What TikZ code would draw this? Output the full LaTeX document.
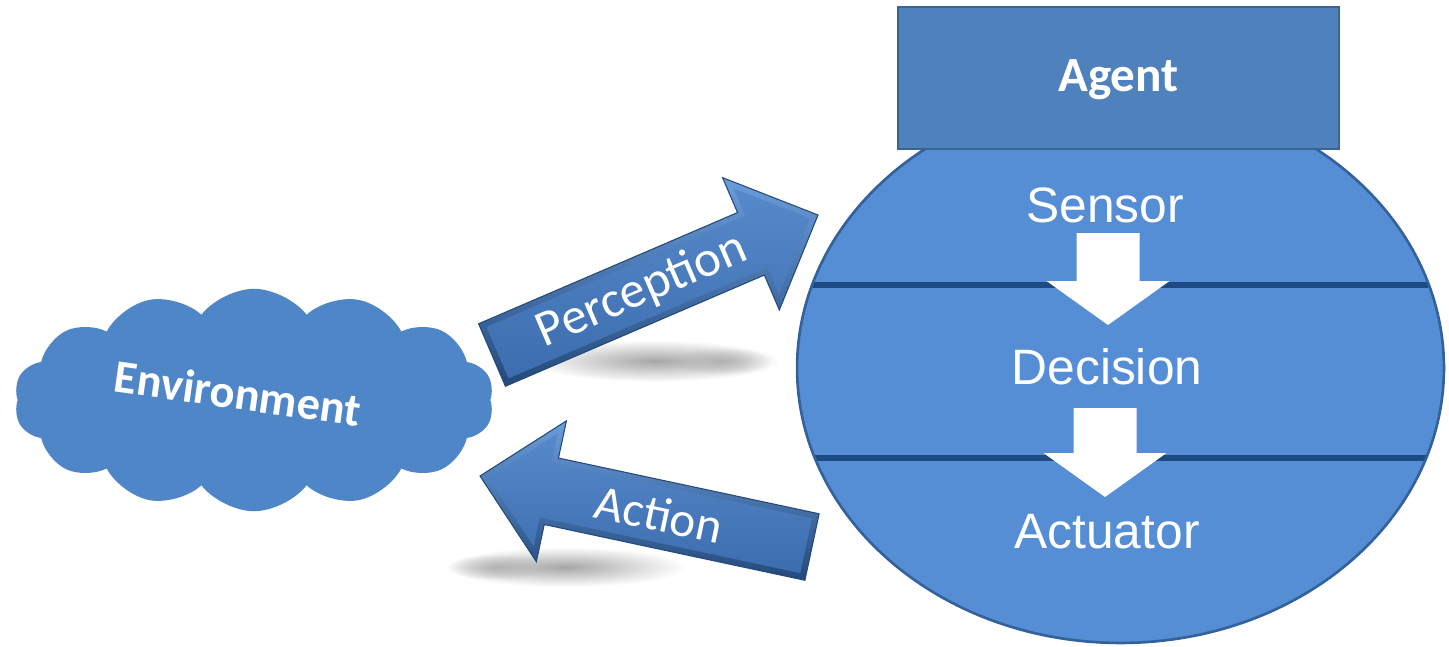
\documentclass[tikz,border=0pt]{standalone}
\usepackage{fontspec}
\setmainfont{Liberation Sans}
\newfontfamily\calibrifont{Carlito}
\usetikzlibrary{shapes.geometric,shapes.symbols,fadings,calc}

\definecolor{cloudblue}{HTML}{4F86C7}
\definecolor{boxblue}{HTML}{4F81BD}
\definecolor{boxedge}{HTML}{3A6496}
\definecolor{bodyblue}{HTML}{558ED5}
\definecolor{bodyedge}{HTML}{33619B}
\definecolor{divider}{HTML}{1C4A85}
\definecolor{arrowlight}{HTML}{6C9DDB}
\definecolor{arrowdark}{HTML}{23497A}
\definecolor{arrowface}{HTML}{5689CB}
\definecolor{arrowfacedark}{HTML}{3C6DAE}

\tikzfading[name=softspot, inner color=transparent!0, outer color=transparent!100]

% thick bevelled block arrow from tail coordinate #1 to tip coordinate #2
\newcommand\fatarrow[2]{%
  \coordinate (fa-b) at ($(#2)!1.46cm!(#1)$);
  \coordinate (fa-t) at ($(#1)!0.12cm!(#2)$);
  \coordinate (fa-p) at ($(#2)!0.17cm!(#1)$);
  \coordinate (fa-c) at ($(#2)!1.34cm!(#1)$);
  \shade[top color=arrowlight, bottom color=arrowdark, draw=arrowdark, line width=0.6pt, line join=miter]
    ($(#1)!0.68cm!90:(#2)$) -- ($(fa-b)!0.68cm!90:(#2)$) -- ($(fa-b)!1.44cm!90:(#2)$)
    -- (#2) -- ($(fa-b)!1.44cm!-90:(#2)$) -- ($(fa-b)!0.68cm!-90:(#2)$)
    -- ($(#1)!0.68cm!-90:(#2)$) -- cycle;
  \shade[top color=arrowface, bottom color=arrowfacedark]
    ($(fa-t)!0.56cm!90:(#2)$) -- ($(fa-c)!0.56cm!90:(#2)$) -- ($(fa-c)!1.15cm!90:(#2)$)
    -- (fa-p) -- ($(fa-c)!1.15cm!-90:(#2)$) -- ($(fa-c)!0.56cm!-90:(#2)$)
    -- ($(fa-t)!0.56cm!-90:(#2)$) -- cycle;
}

% white downward block arrow whose head base is centred on #1
\newcommand\whitedown[3]{%
  \fill[white] (#1) ++(-31.5,0) -- ++(0,-#2) -- ++(63,0) -- ++(0,#2) -- ++(30,0)
    -- ++(-61.5,#3) -- ++(-61.5,-#3) -- cycle;
}

\begin{document}
\begin{tikzpicture}[x=0.02cm, y=-0.02cm,
  boxtext/.style={text=white, font=\calibrifont\bfseries\fontsize{28}{32}\selectfont},
  stagetext/.style={text=white, font=\fontsize{28.3}{32}\selectfont},
  arrowtext/.style={text=white, font=\calibrifont\fontsize{29}{32}\selectfont},
  dividerline/.style={draw=divider, line width=3pt}]
\useasboundingbox (0,0) rectangle (1449,646);

% soft shadows under the block arrows
\fill[black!35, path fading=softspot] (655,361) ellipse [x radius=2.5cm, y radius=0.42cm];
\fill[black!30, path fading=softspot] (722,361) ellipse [x radius=1.0cm, y radius=0.28cm];
\fill[black!35, path fading=softspot] (565,567) ellipse [x radius=2.4cm, y radius=0.4cm];
\fill[black!30, path fading=softspot] (498,567) ellipse [x radius=1.0cm, y radius=0.26cm];

% environment cloud
\node[cloud, cloud puffs=14, cloud puff arc=105, cloud ignores aspect,
      fill=cloudblue, draw=none, minimum width=9.6cm, minimum height=4.45cm, inner sep=0pt]
  (env) at (254,400) {};
\node[boxtext, font=\calibrifont\bfseries\fontsize{26.5}{30}\selectfont, rotate=-8]
  (envlabel) at (238,393) {Environment};

% agent body and title box
\node[ellipse, fill=bodyblue, draw=none,
      minimum width=12.94cm, minimum height=11cm, inner sep=0pt]
  (body) at (1120.5,368) {};
\begin{scope}
  \clip (1120.5,368) ellipse [x radius=6.47cm, y radius=5.5cm];
  \draw[dividerline] (780,285) -- (1460,285);
  \draw[dividerline] (780,458) -- (1460,458);
\end{scope}
\draw[draw=bodyedge, line width=1.5pt] (body.center) ellipse [x radius=6.47cm, y radius=5.5cm];

\node[rectangle, fill=boxblue, draw=boxedge, line width=1.6pt,
      minimum width=8.82cm, minimum height=2.84cm, inner sep=0pt]
  (agent) at (1118.5,78) {};
\node[boxtext] (agentlabel) at (1118.5,80) {Agent};

% stages inside the agent
\node[stagetext] (sensor) at (1105,205) {Sensor};
\node[stagetext] (decision) at (1107,367) {Decision};
\node[stagetext] (actuator) at (1107,532) {Actuator};

\coordinate (sd) at (1108,281);
\coordinate (da) at (1105,453);
\whitedown{sd}{48}{44}
\whitedown{da}{45}{44}

% perception and action arrows between environment and agent
\coordinate (perc tail) at (492,355);
\coordinate (perc tip) at (818,215);
\fatarrow{perc tail}{perc tip}
\node[arrowtext, rotate=23.3, inner sep=0pt] (perclabel) at ($(perc tail)!0.46!(perc tip)$) {Perception};

\coordinate (act tail) at (812,547);
\coordinate (act tip) at (480,476);
\fatarrow{act tail}{act tip}
\node[arrowtext, font=\calibrifont\fontsize{28}{32}\selectfont, rotate=-12, inner sep=0pt]
  (actlabel) at ($(act tail)!0.46!(act tip)$) {Action};
\end{tikzpicture}
\end{document}
